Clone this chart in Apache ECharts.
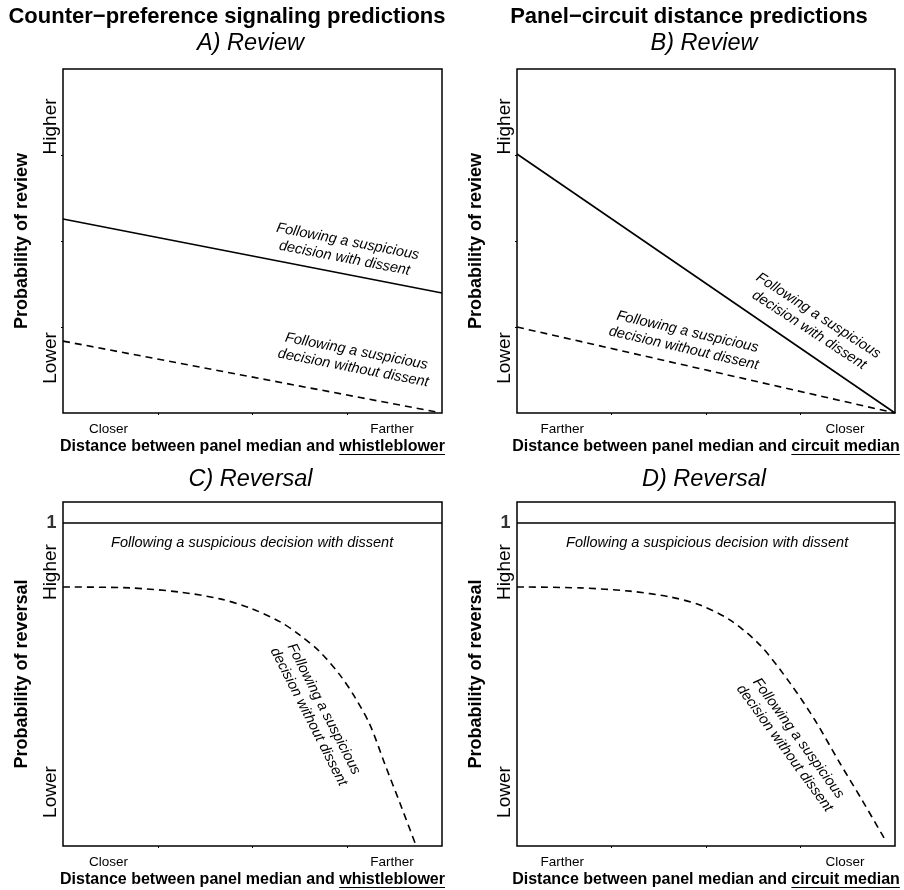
<!DOCTYPE html>
<html><head><meta charset="utf-8">
<script src="https://cdn.jsdelivr.net/npm/echarts@6/dist/echarts.min.js"></script>
<style>html,body{margin:0;padding:0;background:#fff}#c{width:904px;height:890px}</style>
</head><body><div id="c"></div>
<script>
// ---------- data ----------
const columnTitles = ['Counter\u2212preference signaling predictions', 'Panel\u2212circuit distance predictions'];
const panelTitles = ['A) Review', 'B) Review', 'C) Reversal', 'D) Reversal'];
const yNames = ['Probability of review', 'Probability of review', 'Probability of reversal', 'Probability of reversal'];
const xNamePrefix = 'Distance between panel median and ';
const xNameKeys = ['whistleblower', 'circuit median', 'whistleblower', 'circuit median'];
const xTickLabelsSignal = ['Closer', 'Farther'];
const xTickLabelsCircuit = ['Farther', 'Closer'];
const xTickLabelValues = [0.12, 0.868];
const xTickValues = [0.25, 0.5, 0.75];
const yTickLabels = ['Lower', 'Higher'];
const yTickLabelValuesReview = [0.16, 0.833];
const yTickValuesReview = [0.25, 0.5, 0.75];
const yTickLabelValuesReversal = [0.167, 0.848];
const reversalAxisMax = 1.065;
const reversalOneLabel = '1';

// Panel A (review, counter-preference signaling)
const aWithDissent = [[0, 0.564], [1, 0.349]];
const aWithoutDissent = [[0, 0.209], [0.985, 0.003]];
// Panel B (review, panel-circuit distance)
const bWithDissent = [[0, 0.753], [1, 0]];
const bWithoutDissent = [[0, 0.25], [1, 0]];
// Panel C (reversal, counter-preference signaling)
const cWithDissent = [[0, 1], [1, 1]];
const cWithoutDissent = [[0, 0.802], [0.177, 0.799], [0.309, 0.786], [0.414, 0.765], [0.493, 0.737], [0.573, 0.694],
  [0.625, 0.653], [0.678, 0.601], [0.731, 0.529], [0.770, 0.461], [0.810, 0.375], [0.850, 0.251], [0.889, 0.133], [0.929, 0.009]];
// Panel D (reversal, panel-circuit distance)
const dWithDissent = [[0, 1], [1, 1]];
const dWithoutDissent = [[0, 0.802], [0.167, 0.799], [0.299, 0.789], [0.405, 0.771], [0.484, 0.746], [0.563, 0.700],
  [0.643, 0.622], [0.722, 0.505], [0.788, 0.390], [0.854, 0.257], [0.913, 0.142], [0.971, 0.025]];

// annotation texts and anchors (data coordinates)
const annWith = 'Following a suspicious\ndecision with dissent';
const annWithout = 'Following a suspicious\ndecision without dissent';
const annWithFlat = 'Following a suspicious decision with dissent';
const aAnnWithAt = [0.747, 0.474];
const aAnnWithoutAt = [0.770, 0.155];
const bAnnWithAt = [0.785, 0.262];
const bAnnWithoutAt = [0.446, 0.212];
const cAnnWithAt = [0.499, 0.938];
const cAnnWithoutAt = [0.668, 0.412];
const dAnnWithAt = [0.503, 0.938];
const dAnnWithoutAt = [0.726, 0.318];

// ---------- chart ----------
const FF = '"Liberation Sans", Arial, Helvetica, sans-serif';
const chart = echarts.init(document.getElementById('c'), null, {renderer: 'canvas'});

const grids = [
  {left: 63, top: 69, width: 379, height: 344},
  {left: 517, top: 69, width: 378, height: 344},
  {left: 63, top: 502, width: 379, height: 344},
  {left: 517, top: 502, width: 378, height: 344}
].map(g => Object.assign(g, {show: true, borderColor: '#000', borderWidth: 1.5, backgroundColor: 'transparent', containLabel: false, outerBoundsMode: 'none'}));

function mkX(i, labels) {
  return {
    type: 'value', gridIndex: i, min: 0, max: 1,
    axisLine: {show: false}, splitLine: {show: false},
    axisTick: {show: true, customValues: xTickValues, length: 2, lineStyle: {color: '#000', width: 1}},
    axisLabel: {show: true, customValues: xTickLabelValues, formatter: v => (v < 0.5 ? labels[0] : labels[1]),
      color: '#000', fontSize: 13.5, fontFamily: FF, margin: 9}
  };
}
function mkY(i, max, labelVals, tickVals) {
  return {
    type: 'value', gridIndex: i, min: 0, max: max,
    axisLine: {show: false}, splitLine: {show: false},
    axisTick: {show: tickVals.length > 0, customValues: tickVals, length: 2, lineStyle: {color: '#000', width: 1}},
    axisLabel: {show: true, customValues: labelVals, rotate: 90, formatter: v => (v < 0.5 ? yTickLabels[0] : yTickLabels[1]),
      color: '#000', fontSize: 19, fontFamily: FF, margin: 3},
    name: yNames[i], nameLocation: 'middle', nameGap: 32, nameMoveOverlap: false,
    nameTextStyle: {color: '#000', fontSize: 18, fontWeight: 'bold', fontFamily: FF}
  };
}

const xAxes = [mkX(0, xTickLabelsSignal), mkX(1, xTickLabelsCircuit), mkX(2, xTickLabelsSignal), mkX(3, xTickLabelsCircuit)];
const yAxes = [
  mkY(0, 1, yTickLabelValuesReview, yTickValuesReview),
  mkY(1, 1, yTickLabelValuesReview, yTickValuesReview),
  mkY(2, reversalAxisMax, yTickLabelValuesReversal, []),
  mkY(3, reversalAxisMax, yTickLabelValuesReversal, [])
];

function lineS(i, data, dashed) {
  return {type: 'line', xAxisIndex: i, yAxisIndex: i, data: data, showSymbol: false, symbol: 'none', smooth: data.length > 2 ? 0.3 : false,
    lineStyle: {color: '#000', width: 1.6, type: dashed ? [7, 5] : 'solid'}, silent: true, animation: false, clip: true};
}
function annS(i, at, text, rot) {
  return {type: 'scatter', xAxisIndex: i, yAxisIndex: i, data: [at], symbolSize: 1, itemStyle: {color: 'rgba(0,0,0,0)'}, silent: true, z: 5,
    label: {show: true, position: 'inside', formatter: text, rotate: rot, color: '#000', fontStyle: 'italic', fontSize: 14.5,
      lineHeight: 17, fontFamily: FF, align: 'center', verticalAlign: 'middle', textBorderWidth: 0, opacity: 1}};
}
function oneS(i) {
  return {type: 'scatter', xAxisIndex: i, yAxisIndex: i, data: [[0, 1]], symbolSize: 1, itemStyle: {color: 'rgba(0,0,0,0)'}, silent: true,
    label: {show: true, position: 'left', distance: 6, formatter: reversalOneLabel, color: '#000', fontWeight: 'bold', fontSize: 18, fontFamily: FF, textBorderWidth: 0}};
}

const series = [
  lineS(0, aWithDissent, false), lineS(0, aWithoutDissent, true),
  lineS(1, bWithDissent, false), lineS(1, bWithoutDissent, true),
  lineS(2, cWithDissent, false), lineS(2, cWithoutDissent, true),
  lineS(3, dWithDissent, false), lineS(3, dWithoutDissent, true),
  annS(0, aAnnWithAt, annWith, -11), annS(0, aAnnWithoutAt, annWithout, -11),
  annS(1, bAnnWithAt, annWith, -33), annS(1, bAnnWithoutAt, annWithout, -13),
  annS(2, cAnnWithAt, annWithFlat, 0), annS(2, cAnnWithoutAt, annWithout, -63),
  annS(3, dAnnWithAt, annWithFlat, 0), annS(3, dAnnWithoutAt, annWithout, -54),
  oneS(2), oneS(3)
];

// graphic texts
const ctx = document.createElement('canvas').getContext('2d');
function tw(text, font) { ctx.font = font; return ctx.measureText(text).width; }
const graphic = [];
const titleFont = 'bold 22px ' + FF;
[[227, columnTitles[0]], [689, columnTitles[1]]].forEach(([x, t]) => {
  graphic.push({type: 'text', x: x, y: 17, style: {text: t, font: titleFont, fill: '#000', align: 'center', verticalAlign: 'middle'}});
});
const ptFont = 'italic 23.5px ' + FF;
grids.forEach((g, i) => {
  const cx = g.left + g.width / 2;
  const ty = i < 2 ? g.top - 26 : g.top - 23;
  graphic.push({type: 'text', x: cx - 2, y: ty, style: {text: panelTitles[i], font: ptFont, fill: '#000', align: 'center', verticalAlign: 'middle'}});
  const xf = 'bold 16px ' + FF;
  const w1 = tw(xNamePrefix, xf), w2 = tw(xNameKeys[i], xf);
  const x0 = cx - (w1 + w2) / 2;
  const ny = g.top + g.height + 34;
  graphic.push({type: 'text', x: x0, y: ny, style: {text: xNamePrefix, font: xf, fill: '#000', align: 'left', verticalAlign: 'middle'}});
  graphic.push({type: 'text', x: x0 + w1, y: ny, style: {text: xNameKeys[i], font: xf, fill: '#000', align: 'left', verticalAlign: 'middle'}});
  graphic.push({type: 'line', shape: {x1: x0 + w1, y1: ny + 7.5, x2: x0 + w1 + w2, y2: ny + 7.5}, style: {stroke: '#000', lineWidth: 1.2}});
});

chart.setOption({
  animation: false,
  backgroundColor: '#fff',
  grid: grids,
  xAxis: xAxes,
  yAxis: yAxes,
  series: series,
  graphic: graphic
});
</script></body></html>
